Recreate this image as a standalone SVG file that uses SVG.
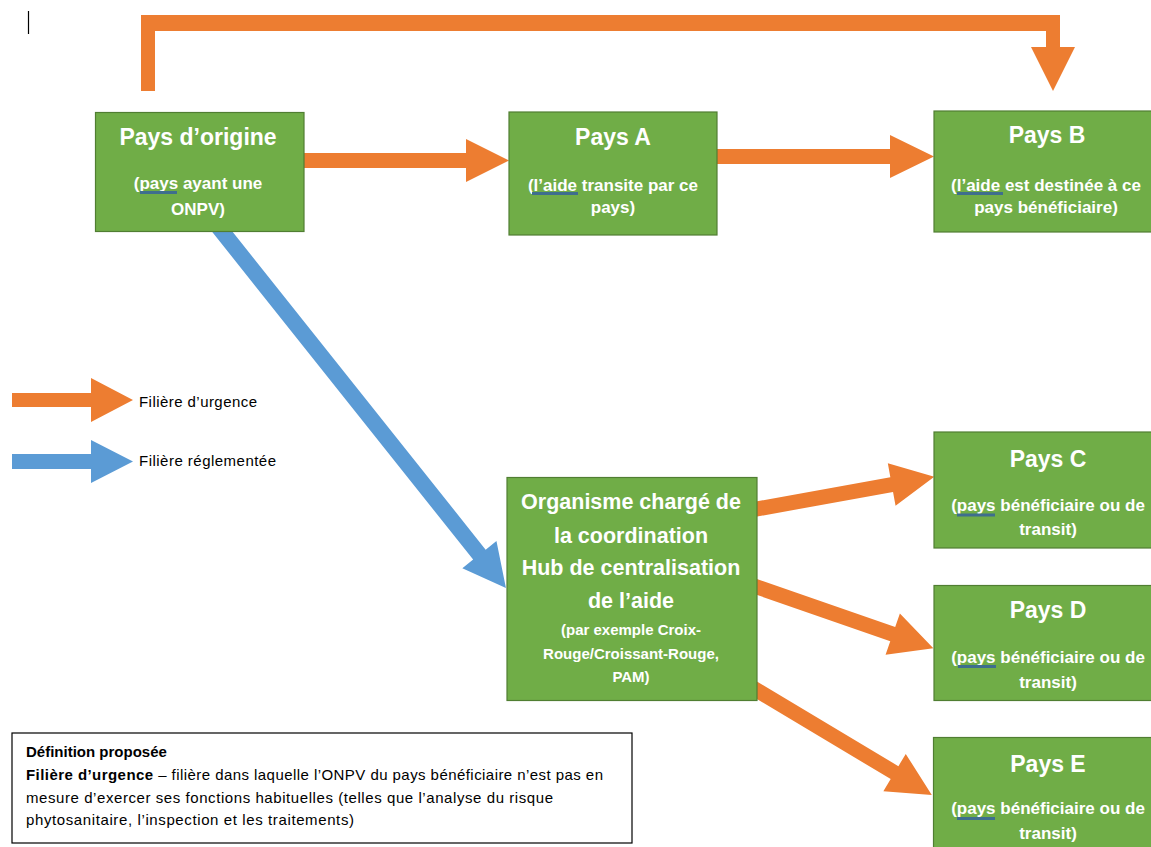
<svg xmlns="http://www.w3.org/2000/svg" width="1151" height="847" viewBox="0 0 1151 847">
<style>
.box{fill:#70AD47;stroke:#507E32;stroke-width:1.2}
.t{font-family:"Liberation Sans",Arial,sans-serif;font-weight:bold;fill:#fff;text-anchor:middle}
.h{font-size:23px}
.s{font-size:17px}
.hb{font-size:21.5px}
.sm{font-size:15px}
.org{fill:#ED7D31}
.blu{fill:#5B9BD5}
.lg{font-family:"Liberation Sans",Arial,sans-serif;font-size:15px;fill:#000}
.b{font-weight:bold}
.sp{fill:#3E6E8E}
</style>
<rect width="1151" height="847" fill="#fff"/>
<line x1="28.5" y1="11" x2="28.5" y2="34" stroke="#000" stroke-width="1.2"/>
<g id="connectors">
  <polygon class="org" points="141,91 141,15 1060,15 1060,47 1075,47 1053,91 1031,47 1046,47 1046,31 155,31 155,91"/>
  <polygon class="org" points="300,153 466,153 466,139 509,160.5 466,182 466,168 300,168"/>
  <polygon class="org" points="713,149 890,149 890,135 934,156.5 890,178 890,164 713,164"/>
  <polygon class="blu" transform="translate(222.5,232) rotate(51.47)" points="-8,-8 412.4,-8 412.4,-21.8 455,0 412.4,21.8 412.4,8 -8,8"/>
  <polygon class="org" transform="translate(757,509) rotate(-10.3)" points="-8,-7.5 136.9,-7.5 136.9,-21.6 180.2,0 136.9,21.6 136.9,7.5 -8,7.5"/>
  <polygon class="org" transform="translate(757,587) rotate(19.17)" points="-8,-7.5 143.7,-7.5 143.7,-21.8 186.7,0 143.7,21.8 143.7,7.5 -8,7.5"/>
  <polygon class="org" transform="translate(757,690.3) rotate(30.9)" points="-8,-7.5 160.3,-7.5 160.3,-21.8 203.7,0 160.3,21.8 160.3,7.5 -8,7.5"/>
</g>
<g id="legend">
  <polygon class="org" points="12,393 91,393 91,378 133,400 91,422 91,407 12,407"/>
  <text class="lg" x="139" y="407" textLength="118" lengthAdjust="spacing">Filière d’urgence</text>
  <polygon class="blu" points="12,454 91,454 91,440 133,461.5 91,483 91,469 12,469"/>
  <text class="lg" x="139" y="466" textLength="137" lengthAdjust="spacing">Filière réglementée</text>
</g>
<g id="node-origine">
  <rect class="box" x="95.5" y="112.5" width="208.5" height="119"/>
  <text class="t h" x="198" y="145">Pays d’origine</text>
  <text class="t s" x="198" y="189">(pays ayant une</text>
  <text class="t s" x="198" y="215">ONPV)</text>
  <rect class="sp" x="140" y="191" width="37" height="3"/>
</g>
<g id="node-a">
  <rect class="box" x="509" y="112" width="208" height="123"/>
  <text class="t h" x="613" y="145">Pays A</text>
  <text class="t s" x="613" y="190.5">(l’aide transite par ce</text>
  <text class="t s" x="613" y="213">pays)</text>
  <rect class="sp" x="532" y="192" width="46" height="3"/>
</g>
<g id="node-b">
  <rect class="box" x="934" y="111" width="230" height="121"/>
  <text class="t h" x="1047" y="143">Pays B</text>
  <text class="t s" x="1046" y="190.5">(l’aide est destinée à ce</text>
  <text class="t s" x="1046" y="213">pays bénéficiaire)</text>
  <rect class="sp" x="957" y="192" width="46" height="3"/>
</g>
<g id="node-hub">
  <rect class="box" x="507" y="477.5" width="250" height="223"/>
  <text class="t hb" x="631" y="509">Organisme chargé de</text>
  <text class="t hb" x="631" y="542.5">la coordination</text>
  <text class="t hb" x="631" y="575">Hub de centralisation</text>
  <text class="t hb" x="631" y="608">de l’aide</text>
  <text class="t sm" x="631" y="635">(par exemple Croix-</text>
  <text class="t sm" x="631" y="659">Rouge/Croissant-Rouge,</text>
  <text class="t sm" x="631" y="682">PAM)</text>
</g>
<g id="node-c">
  <rect class="box" x="934" y="432" width="230" height="116"/>
  <text class="t h" x="1048" y="466.5">Pays C</text>
  <text class="t s" x="1048" y="510.5">(pays bénéficiaire ou de</text>
  <text class="t s" x="1048" y="535">transit)</text>
  <rect class="sp" x="957" y="513.5" width="38" height="3"/>
</g>
<g id="node-d">
  <rect class="box" x="934" y="585.5" width="230" height="115"/>
  <text class="t h" x="1048" y="618">Pays D</text>
  <text class="t s" x="1048" y="662.5">(pays bénéficiaire ou de</text>
  <text class="t s" x="1048" y="687.5">transit)</text>
  <rect class="sp" x="958" y="665" width="38" height="3"/>
</g>
<g id="node-e">
  <rect class="box" x="933.5" y="737.5" width="230" height="120"/>
  <text class="t h" x="1048" y="771.5">Pays E</text>
  <text class="t s" x="1048" y="814">(pays bénéficiaire ou de</text>
  <text class="t s" x="1048" y="839">transit)</text>
  <rect class="sp" x="957" y="817" width="38" height="3"/>
</g>
<g id="definition">
  <rect x="12" y="733" width="620" height="110" fill="#fff" stroke="#000" stroke-width="1.2"/>
  <text class="lg b" x="26" y="757">Définition proposée</text>
  <text class="lg" x="26" y="780" textLength="577" lengthAdjust="spacing"><tspan class="b">Filière d’urgence</tspan> – filière dans laquelle l’ONPV du pays bénéficiaire  n’est pas en</text>
  <text class="lg" x="26" y="802.5" textLength="527" lengthAdjust="spacing">mesure d’exercer ses fonctions habituelles (telles que l’analyse du risque</text>
  <text class="lg" x="26" y="825" textLength="328" lengthAdjust="spacing">phytosanitaire, l’inspection et les traitements)</text>
</g>
</svg>
